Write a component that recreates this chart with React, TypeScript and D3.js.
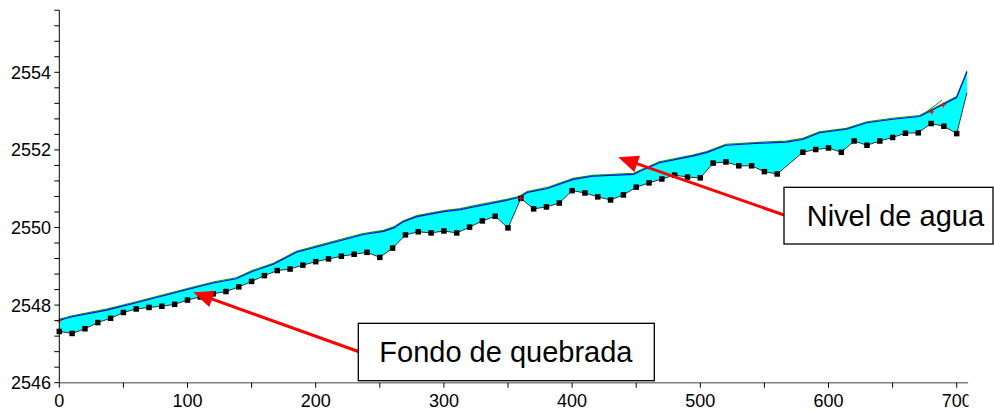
import React from "react";
import * as d3 from "d3";

// Bed profile (Fondo de quebrada): station (m) and elevation (m)
const bedX = [0,10,20,30,40,50,60,70,80,90,100,110,120,130,140,150,160,170,180,190,200,210,220,230,240,250,260,270,280,290,300,310,320,330,340,350,360,370,380,390,400,410,420,430,440,450,460,470,480,490,500,510,520,530,540,550,560,580,590,600,610,620,630,640,650,660,670,680,690,700];
const bedY = [2547.32,2547.27,2547.39,2547.55,2547.66,2547.81,2547.90,2547.94,2547.97,2548.02,2548.13,2548.21,2548.29,2548.35,2548.47,2548.61,2548.76,2548.89,2548.93,2549.03,2549.12,2549.19,2549.26,2549.31,2549.36,2549.23,2549.47,2549.81,2549.89,2549.86,2549.91,2549.86,2550.01,2550.17,2550.29,2549.99,2550.75,2550.48,2550.53,2550.63,2550.95,2550.89,2550.79,2550.71,2550.84,2551.04,2551.15,2551.25,2551.35,2551.30,2551.28,2551.66,2551.69,2551.59,2551.59,2551.44,2551.38,2551.94,2552.01,2552.05,2551.94,2552.23,2552.12,2552.23,2552.32,2552.43,2552.44,2552.68,2552.61,2552.42];
const bedEnd = { x: 708, y: 2553.48 };

// Water surface (Nivel de agua)
const waterX = [0,10,37,60,100,120,138,151,167,185,211,237,253,261,268,279,300,313,323,349,359,365,380,401,416,448,453,468,494,505,520,546,567,580,593,614,630,650,671,681,700,708];
const waterY = [2547.61,2547.70,2547.87,2548.06,2548.40,2548.57,2548.68,2548.87,2549.05,2549.36,2549.59,2549.82,2549.90,2549.99,2550.14,2550.28,2550.41,2550.46,2550.53,2550.70,2550.78,2550.90,2551.00,2551.24,2551.32,2551.37,2551.45,2551.67,2551.84,2551.93,2552.12,2552.17,2552.20,2552.27,2552.44,2552.53,2552.70,2552.79,2552.86,2553.03,2553.35,2554.01];

// small red markers
const redX = [0, 360, 680.5, 689.5];
const redY = [2547.60, 2550.75, 2552.98, 2553.16];

const xMajor = [0,100,200,300,400,500,600,700];
const xMinor = [50,150,250,350,450,550,650];
const yLabels = [2546,2548,2550,2552,2554];
const yTicks = d3.range(0, 25).map((i) => +(2546 + i * 0.4).toFixed(1));

const annotations = [
  { text: "Fondo de quebrada", tipX: 104.5, tipY: 2548.33, bx: 358.3, by: 323.3, bw: 296, bh: 57.4, tx: 379.3, ty: 362, sx: 358.3, sy: 351.5 },
  { text: "Nivel de agua", tipX: 436, tipY: 2551.81, bx: 784, by: 187.3, bw: 209, bh: 56.7, tx: 806.7, ty: 225.5, sx: 784, sy: 215 },
];

const FONT = "'Liberation Sans', Arial, sans-serif";

export default function App() {
  const W = 994, H = 411;
  const x = d3.scaleLinear().domain([0, 700]).range([59.3, 956.7]);
  const y = d3.scaleLinear().domain([2546, 2554]).range([382.7, 72.3]);
  const xEnd = x(709);
  const yTop = y(2555.6);

  const bed = bedX.map((v, i) => [v, bedY[i]] as [number, number]);
  const bedFull = [...bed, [bedEnd.x, bedEnd.y] as [number, number]];
  const water = waterX.map((v, i) => [v, waterY[i]] as [number, number]);

  const line = d3.line<[number, number]>().x((d) => x(d[0])).y((d) => y(d[1]));
  const poly = line([...water, ...bedFull.slice().reverse()]) + "Z";

  const arrowHead = (sx: number, sy: number, tx: number, ty: number) => {
    const dx = tx - sx, dy = ty - sy;
    const L = Math.hypot(dx, dy);
    const ux = dx / L, uy = dy / L;
    const len = 20, hw = 8.5;
    const bxp = tx - ux * len, byp = ty - uy * len;
    return `M${tx},${ty}L${bxp - uy * hw},${byp + ux * hw}L${bxp + uy * hw},${byp - ux * hw}Z`;
  };

  return (
    <svg width={W} height={H} style={{ position: "absolute", left: 0, top: 0, background: "#fff" }} fontFamily={FONT}>
      <defs>
        <clipPath id="plotclip">
          <rect x={0} y={0} width={968.5} height={H} />
        </clipPath>
      </defs>
      <g clipPath="url(#plotclip)">
        <path d={poly} fill="#00FFFF" stroke="none" />
        <path d={line(water) || ""} fill="none" stroke="#00A000" strokeWidth={1.2} transform="translate(0,-1)" />
        <path d={line(water) || ""} fill="none" stroke="#0000FF" strokeWidth={1.1} />
        <path d={line([[676, 2552.97], [688.5, 2553.28]]) || ""} fill="none" stroke="#00A000" strokeWidth={1} />
        <path d={line(bedFull) || ""} fill="none" stroke="#333" strokeWidth={1} />
        {bed.map((d, i) => (
          <rect key={i} x={x(d[0]) - 2.75} y={y(d[1]) - 2.75} width={5.5} height={5.5} fill="#000" />
        ))}
        {redX.map((v, i) => (
          <g key={i} stroke="#FF0000" strokeWidth={1.2}>
            <line x1={x(v) - 2.5} x2={x(v) + 2.5} y1={y(redY[i])} y2={y(redY[i])} />
            <line x1={x(v)} x2={x(v)} y1={y(redY[i]) - 2.5} y2={y(redY[i]) + 2.5} />
          </g>
        ))}

        {/* X axis */}
        <line x1={x(0)} x2={xEnd} y1={y(2546)} y2={y(2546)} stroke="#808080" strokeWidth={1.5} />
        {[...xMajor, ...xMinor].map((t) => (
          <line key={t} x1={x(t)} x2={x(t)} y1={y(2546)} y2={y(2546) + 5} stroke="#000" strokeWidth={1} />
        ))}
        {xMajor.map((t) => (
          <text key={t} x={x(t)} y={406.5} textAnchor="middle" fontSize={18} fill="#000">{t}</text>
        ))}
      </g>

      {/* Y axis */}
      <line x1={x(0)} x2={x(0)} y1={yTop} y2={y(2546)} stroke="#000" strokeWidth={1} />
      {yTicks.map((t) => (
        <line key={t} x1={x(0) - 5} x2={x(0)} y1={y(t)} y2={y(t)} stroke="#000" strokeWidth={1} />
      ))}
      {yLabels.map((t) => (
        <text key={t} x={51} y={y(t) + 6.5} textAnchor="end" fontSize={18} fill="#000">{t}</text>
      ))}

      {/* Annotations */}
      {annotations.map((a, i) => {
        const tx = x(a.tipX), ty = y(a.tipY);
        const dx = tx - a.sx, dy = ty - a.sy;
        const L = Math.hypot(dx, dy);
        const ex = tx - (dx / L) * 15, ey = ty - (dy / L) * 15;
        return (
          <g key={i}>
            <line x1={a.sx} y1={a.sy} x2={ex} y2={ey} stroke="#FF0000" strokeWidth={3} />
            <path d={arrowHead(a.sx, a.sy, tx, ty)} fill="#FF0000" />
            <rect x={a.bx} y={a.by} width={a.bw} height={a.bh} fill="#fff" stroke="#000" strokeWidth={1.3} />
            <text x={a.tx} y={a.ty} fontSize={29} fill="#000">{a.text}</text>
          </g>
        );
      })}
    </svg>
  );
}
